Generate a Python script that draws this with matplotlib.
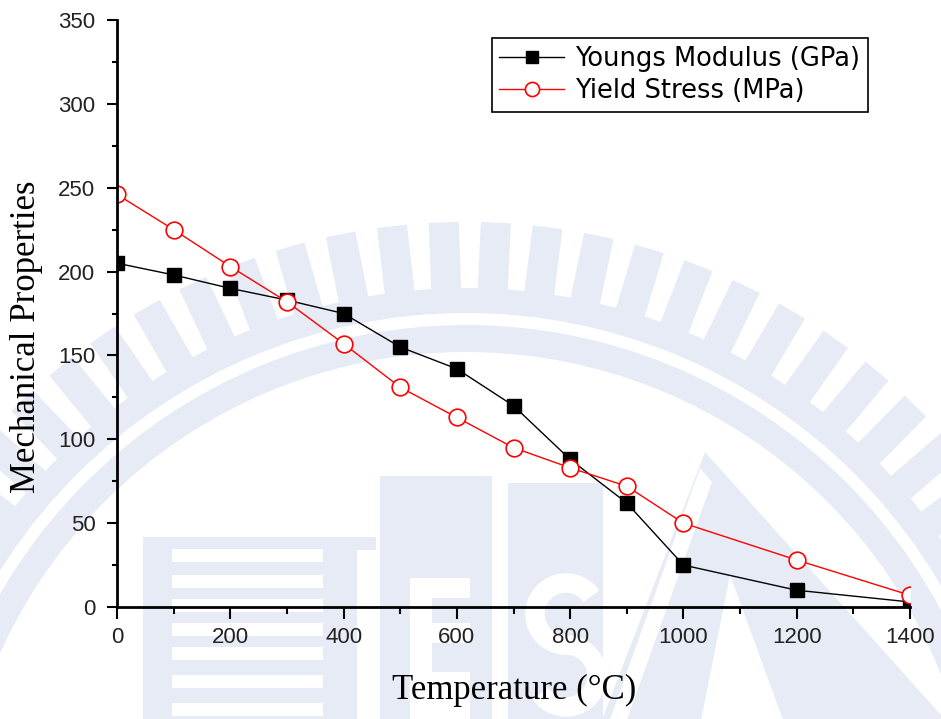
import numpy as np
import matplotlib.pyplot as plt
from matplotlib.patches import Wedge, Polygon, Rectangle

# temperature (C) and the two measured properties
temperature = [0, 100, 200, 300, 400, 500, 600, 700, 800, 900, 1000, 1200, 1400]
youngs_modulus = [205, 198, 190, 183, 175, 155, 142, 120, 88, 62, 25, 10, 3]
yield_stress = [246, 225, 203, 182, 157, 131, 113, 95, 83, 72, 50, 28, 7]

W, H = 941, 719
fig = plt.figure(figsize=(W / 100, H / 100), dpi=100)
fig.patch.set_facecolor('white')

# ---- faint emblem behind the chart (pixel coords, y down) ----
bg = fig.add_axes([0, 0, 1, 1], zorder=0)
bg.set_xlim(0, W)
bg.set_ylim(H, 0)
bg.axis('off')
wm = '#e6ebf5'
cx, cy = 466, 863
bg.add_patch(Wedge((cx, cy), 538, 0, 360, width=27, color=wm, lw=0))
bg.add_patch(Wedge((cx, cy), 575, 0, 360, width=25, color=wm, lw=0))
for k in range(-40, 40):
    a = np.radians(2.67 + 4.65 * k)
    ux, uy = np.sin(a), -np.cos(a)      # outward direction
    px, py = np.cos(a), np.sin(a)       # sideways
    hw = 15
    pts = []
    for r, s in [(572, -1), (641, -1), (641, 1), (572, 1)]:
        pts.append((cx + r * ux + s * hw * px, cy + r * uy + s * hw * py))
    bg.add_patch(Polygon(pts, closed=True, color=wm, lw=0))

# striped block
bg.add_patch(Rectangle((143, 537), 233, 190, color=wm, lw=0))
for y0 in [549, 575, 599, 623, 647, 675, 703]:
    bg.add_patch(Rectangle((172, y0), 151, 13, color='white', lw=0))
bg.add_patch(Rectangle((357, 550), 19, 180, color='white', lw=0))
# E
bg.add_patch(Rectangle((380, 476), 112, 250, color=wm, lw=0))
bg.add_patch(Rectangle((410, 578), 60, 150, color='white', lw=0))
bg.add_patch(Rectangle((432, 598), 38, 25, color=wm, lw=0))
bg.add_patch(Rectangle((432, 643), 38, 29, color=wm, lw=0))
# S: block with a white stroke made of two bowls
bg.add_patch(Rectangle((508, 483), 95, 250, color=wm, lw=0))
r_s, sx, top_c, bot_c = 31, 566, 614, 676
t1 = np.radians(np.linspace(35, 270, 60))
t2 = np.radians(np.linspace(90, -145, 60))
s_x = np.concatenate([sx + r_s * np.cos(t1), sx + r_s * np.cos(t2)])
s_y = np.concatenate([top_c - r_s * np.sin(t1), bot_c - r_s * np.sin(t2)])
bg.plot(s_x, s_y, color='white', lw=14, solid_capstyle='butt')
# A
bg.add_patch(Polygon([(705, 452), (950, 725), (600, 725)], color=wm, lw=0))
bg.add_patch(Polygon([(700, 468), (608, 725), (625, 725), (712, 482)],
                     color='white', lw=0))
bg.add_patch(Polygon([(730, 575), (700, 725), (785, 725)], color='white', lw=0))

# ---- the chart ----
ax = fig.add_axes([117 / W, 1 - 607 / H, 793 / W, 587 / H], zorder=1)
ax.set_facecolor('none')

ax.plot(temperature, youngs_modulus, color='black', lw=1.0, marker='s',
        markersize=10, markerfacecolor='black', markeredgecolor='black',
        label='Youngs Modulus (GPa)')
ax.plot(temperature, yield_stress, color='red', lw=1.0, marker='o',
        markersize=12, markerfacecolor='white', markeredgecolor='red',
        markeredgewidth=1.2, label='Yield Stress (MPa)')

ax.set_xlim(0, 1400)
ax.set_ylim(0, 350)
ax.set_xticks(np.arange(0, 1401, 200))
ax.set_xticks(np.arange(0, 1401, 100), minor=True)
ax.set_yticks(np.arange(0, 351, 50))
ax.set_yticks(np.arange(0, 351, 25), minor=True)

ax.spines['right'].set_color('none')
ax.spines['top'].set_color('none')
ax.spines['left'].set_linewidth(2)
ax.spines['bottom'].set_linewidth(2)
ax.tick_params(axis='x', which='major', direction='out', length=8.5, width=1.5, pad=6)
ax.tick_params(axis='x', which='minor', direction='out', length=5, width=1.5)
ax.tick_params(axis='y', which='major', direction='out', length=7.5, width=1.5, pad=8)
ax.tick_params(axis='y', which='minor', direction='out', length=3.5, width=1.5)
for lab in ax.get_xticklabels() + ax.get_yticklabels():
    lab.set_family('Liberation Sans')
    lab.set_fontsize(16)
    lab.set_color('#222222')

fig.text(514 / W, 1 - 690 / H, 'Temperature (°C)', family='Liberation Serif',
         fontsize=25, ha='center', va='center')
fig.text(27 / W, 1 - 337 / H, 'Mechanical Properties', family='Liberation Serif',
         fontsize=25, rotation=90, ha='center', va='center')

leg = ax.legend(loc='upper right', bbox_to_anchor=(868 / W, 1 - 38 / H),
                bbox_transform=fig.transFigure, borderaxespad=0,
                prop={'family': 'DejaVu Sans', 'size': 18.5},
                handlelength=2.5, handletextpad=0.45, labelspacing=0.24,
                borderpad=0.3, fancybox=False, framealpha=1, markerscale=0.85)
leg.get_frame().set_edgecolor('black')
leg.get_frame().set_linewidth(1.2)

fig.savefig('out.png', dpi=100)
